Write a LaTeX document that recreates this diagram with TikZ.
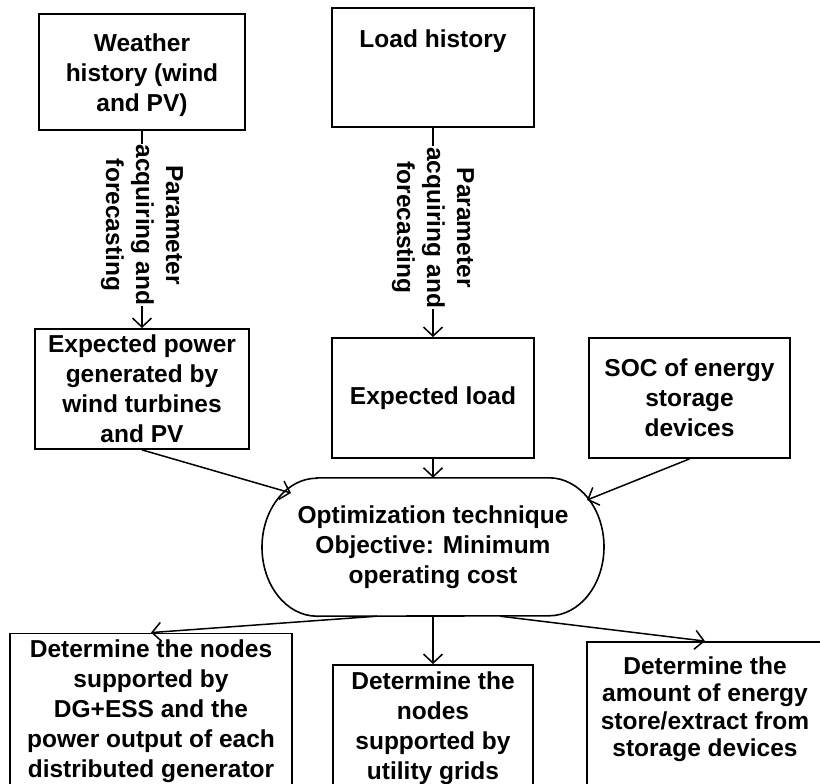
\documentclass[tikz,border=0pt]{standalone}
\usepackage{fontspec}
\setmainfont{Liberation Sans}
\usetikzlibrary{arrows.meta}
\begin{document}
\begin{tikzpicture}[x=1pt,y=-1pt,
  txt/.style={font=\bfseries\fontsize{24.5}{30}\selectfont, align=center, inner sep=0pt},
  box/.style={txt, draw, line width=1.8pt},
  arr/.style={line width=1.5pt, -{Straight Barb[length=9pt,width=19pt,line width=1.5pt]}},
  lbl/.style={txt, rotate=-90, fill=white, inner sep=1pt}]
\clip (0,0) rectangle (820,784);

% inputs
\node[box, minimum width=206, minimum height=116] (wh) at (142,72) {};
\node[txt] (wht) at (142,75) {Weather\\history (wind\\and PV)};
\node[box, minimum width=202, minimum height=119] (lh) at (433,67.5) {};
\node[txt] (lht) at (433,41) {Load history};

% forecasts
\node[box, minimum width=214, minimum height=120] (ep) at (142,389)
  {Expected power\\generated by\\wind turbines\\and PV};
\node[box, minimum width=202, minimum height=120] (el) at (433,398) {Expected load};
\node[box, minimum width=201, minimum height=120] (soc) at (689.5,398)
  {SOC of energy\\storage\\devices};

% optimisation block (stadium outline drawn around the node)
\node[txt, minimum width=341, minimum height=138] (opt) at (433,547)
  {Optimization technique\\Objective: Minimum\\operating cost};
\draw[line width=1.6pt] ([xshift=-116]opt.north) -- ([xshift=116]opt.north)
  arc[start angle=-90, end angle=90, x radius=55, y radius=69]
  -- ([xshift=-116]opt.south)
  arc[start angle=90, end angle=270, x radius=55, y radius=69] -- cycle;
\coordinate (optL) at (291,493);
\coordinate (optR) at (587,500);

% results
\node[box, minimum width=282, minimum height=155] (d1) at (151,711)
  {Determine the nodes\\supported by\\DG+ESS and the\\power output of each\\distributed generator};
\node[box, minimum width=200, minimum height=127] (d2) at (433,728.5)
  {Determine the\\nodes\\supported by\\utility grids};
\node[box, minimum width=246, minimum height=150] (d3) at (710,717) {};
\node[txt, font=\bfseries\fontsize{24.5}{27.5}\selectfont] (d3t) at (705,709)
  {Determine the\\amount of energy\\store/extract from\\storage devices};

% connectors
\draw[arr] (wh.south) -- node[lbl, pos=0.477] {Parameter\\acquiring and\\forecasting} (ep.north);
\draw[arr] (lh.south) -- node[lbl, pos=0.477] {Parameter\\acquiring and\\forecasting} (el.north);
\draw[arr] (ep.south) -- (optL);
\draw[arr] (el.south) -- (opt.north);
\draw[arr] (soc.south) -- (optR);
\draw[arr] ([xshift=-56]opt.south) -- (d1.north);
\draw[arr] (opt.south) -- (d2.north);
\draw[arr] ([xshift=67]opt.south) -- ([xshift=-5]d3.north);
\end{tikzpicture}
\end{document}
